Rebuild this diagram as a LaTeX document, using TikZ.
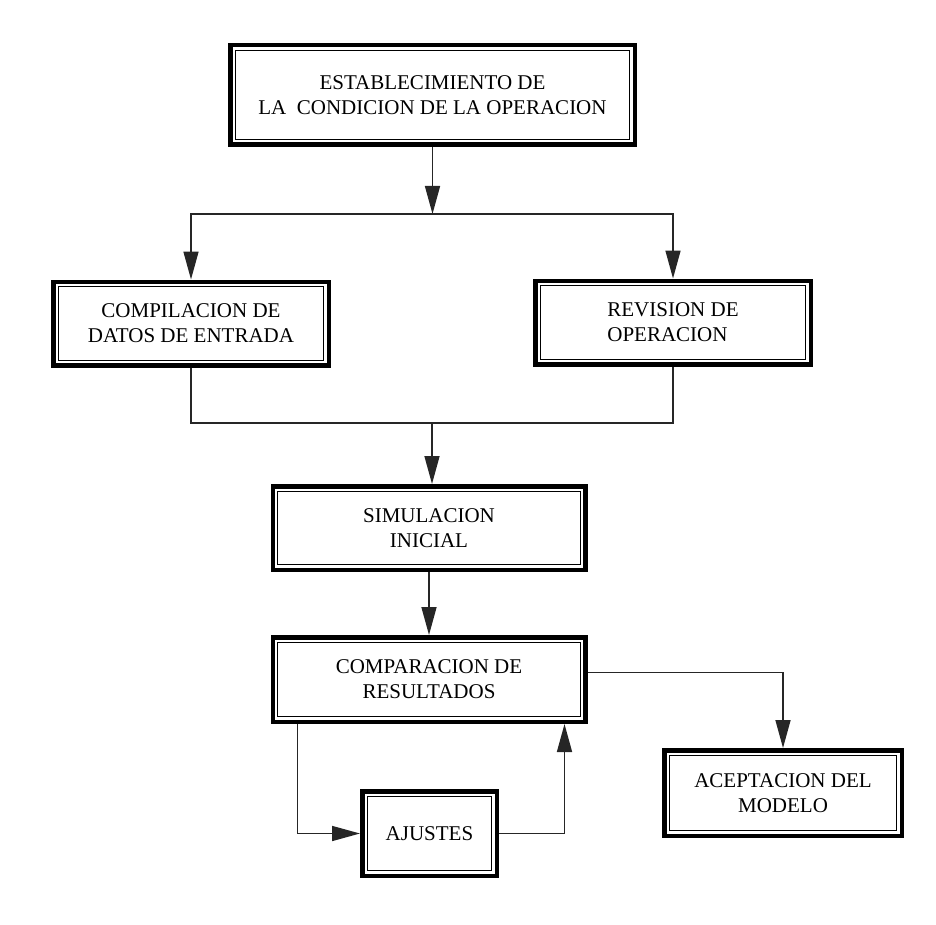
\documentclass[tikz,border=0pt]{standalone}
\usepackage{fontspec}
\setmainfont{Liberation Serif}
\usetikzlibrary{arrows.meta}

\begin{document}
\begin{tikzpicture}[x=1pt,y=-1pt,
	bloque/.style={draw,line width=1.2pt,align=center,inner sep=0pt,outer sep=7.25pt,font=\fontsize{21}{25}\selectfont},
	flecha/.style={-{Triangle[length=28pt,width=15pt]}},
	linea/.style={line width=1.6pt,draw=black!85}]
	\useasboundingbox (0,0) rectangle (936,925);
	\node[bloque,minimum width=394.5pt,minimum height=89.5pt] at (432.5,95)	(est) {ESTABLECIMIENTO DE\\LA\ \ CONDICION DE LA OPERACION};
	\node[bloque,minimum width=265.5pt,minimum height=73.5pt] at (191,323.5)	(comp) {COMPILACION DE\\DATOS DE ENTRADA};
	\node[bloque,align=left,minimum width=265.5pt,minimum height=73.5pt] at (673,322.5)	(rev) {REVISION DE\\OPERACION};
	\node[bloque,minimum width=302.5pt,minimum height=73.5pt] at (429,528)	(sim) {SIMULACION\\INICIAL};
	\node[bloque,minimum width=302.5pt,minimum height=74.5pt] at (429,679.5)	(cmp) {COMPARACION DE\\RESULTADOS};
	\node[bloque,minimum width=124.5pt,minimum height=74.5pt] at (429.5,833.5)	(aju) {AJUSTES};
	\node[bloque,minimum width=227.5pt,minimum height=75.5pt] at (783,793)	(acep) {ACEPTACION DEL\\MODELO};
	% marcos gruesos
	\foreach \b in {est,comp,rev,sim,cmp,aju,acep}
		\draw[line width=4.5pt] ([shift={(2.25pt,-2.25pt)}]\b.north west) rectangle ([shift={(-2.25pt,2.25pt)}]\b.south east);
	\coordinate (reparto) at (432.5,214);
	\coordinate (junta) at (432,423);
	\draw[linea,flecha] (est.south) -- (reparto);
	\draw[linea,flecha] (reparto) -| (comp.north);
	\draw[linea,flecha] (reparto) -| (rev.north);
	\draw[linea] (comp.south) |- (junta) -| (rev.south);
	\draw[linea,flecha] (junta) -- (junta |- sim.north);
	\draw[linea,flecha] (sim.south) -- (cmp.north);
	\draw[linea,flecha] ([xshift=27pt]cmp.south west) |- (aju.west);
	\draw[linea,flecha] (aju.east) -| ([xshift=-23pt]cmp.south east);
	\draw[linea,flecha] ([yshift=7pt]cmp.east) -| (acep.north);
\end{tikzpicture}
\end{document}
